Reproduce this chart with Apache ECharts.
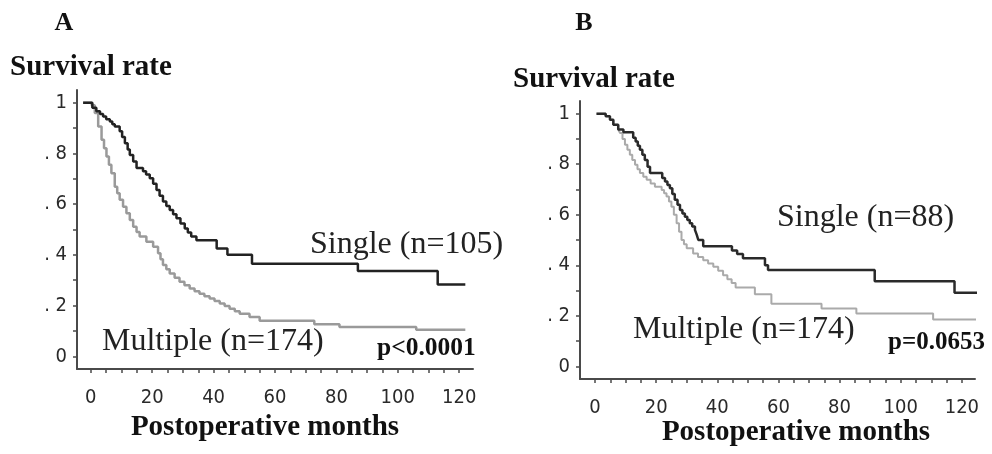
<!DOCTYPE html>
<html>
<head>
<meta charset="utf-8">
<script src="https://cdn.jsdelivr.net/npm/echarts@6/dist/echarts.min.js"></script>
<style>
html, body { margin: 0; background: #fff; }
#main { width: 992px; height: 454px; }
</style>
</head>
<body>
<div id="main"></div>
<script>
// tick positions
const xLabelValues = [0, 20, 40, 60, 80, 100, 120];
const xTickValues = [0, 5, 10, 15, 20, 25, 30, 35, 40, 45, 50, 55, 60, 65, 70, 75, 80, 85, 90, 95, 100, 105, 110, 115, 120];
const yLabelValues = [0, 0.2, 0.4, 0.6, 0.8, 1];
const yTickValues = [0, 0.1, 0.2, 0.3, 0.4, 0.5, 0.6, 0.7, 0.8, 0.9, 1];

// panel A - single tumour
const aSingleMonths = [-2.5, 0.5, 1.8, 3, 4, 5, 6.2, 7, 7.8, 9.4, 10.2, 11.1, 12, 12.7, 13.8, 14.9, 17, 18, 19.2, 20.3, 21.4, 22.4, 23.5, 24.6, 25.7, 26.8, 27.9, 29.2, 30.6, 31.6, 32.7, 34.4, 41, 44.5, 52.5, 87, 113, 122];
const aSingleSurv = [1, 0.98, 0.966, 0.955, 0.946, 0.935, 0.926, 0.915, 0.906, 0.887, 0.865, 0.84, 0.815, 0.794, 0.768, 0.742, 0.73, 0.717, 0.702, 0.68, 0.656, 0.633, 0.61, 0.593, 0.577, 0.56, 0.544, 0.524, 0.504, 0.488, 0.472, 0.458, 0.425, 0.4, 0.365, 0.336, 0.283, 0.283];
// panel A - multiple tumours
const aMultiMonths = [-2.5, 0.3, 1.3, 2.4, 3.5, 4.3, 5.1, 5.9, 6.7, 7.8, 8.6, 9.4, 10.5, 11.6, 12.7, 13.8, 14.9, 15.9, 18.1, 20.3, 21.9, 22.7, 23.5, 24.6, 25.7, 27.3, 28.9, 30.5, 32.2, 33.8, 35.4, 37, 38.7, 40.3, 42, 43.6, 45.2, 46.9, 48.5, 51.7, 55, 72.8, 81, 106, 122];
const aMultiSurv = [1, 0.99, 0.959, 0.906, 0.854, 0.82, 0.788, 0.755, 0.722, 0.669, 0.643, 0.617, 0.59, 0.564, 0.537, 0.511, 0.49, 0.472, 0.452, 0.432, 0.406, 0.383, 0.36, 0.343, 0.327, 0.31, 0.294, 0.28, 0.267, 0.257, 0.247, 0.237, 0.228, 0.218, 0.208, 0.198, 0.188, 0.178, 0.168, 0.155, 0.14, 0.126, 0.116, 0.105, 0.105];

// panel B - single tumour
const bSingleMonths = [0.5, 3.5, 4.9, 6, 7.6, 9.3, 12.5, 13.3, 14, 14.7, 15.5, 16.3, 17.2, 18, 22, 22.9, 23.7, 24.5, 25.3, 26.1, 27, 27.8, 28.6, 29.4, 30.2, 31, 31.8, 32.7, 33.3, 33.8, 35.4, 44.8, 46.5, 48.4, 55.6, 56.6, 91.5, 117.6, 127];
const bSingleSurv = [1, 0.99, 0.976, 0.956, 0.937, 0.926, 0.905, 0.89, 0.873, 0.857, 0.837, 0.817, 0.79, 0.765, 0.745, 0.731, 0.718, 0.705, 0.682, 0.659, 0.639, 0.619, 0.605, 0.592, 0.579, 0.566, 0.553, 0.54, 0.52, 0.5, 0.475, 0.458, 0.445, 0.428, 0.4, 0.381, 0.337, 0.291, 0.291];
// panel B - multiple tumours
const bMultiMonths = [0.5, 3.5, 4.9, 6, 7.6, 8.2, 9, 9.8, 10.6, 11.4, 12.2, 13.1, 13.9, 14.7, 15.8, 16.9, 18.2, 19.6, 21.8, 22.6, 23.4, 24.2, 25, 25.8, 26.7, 27.5, 28.3, 29.1, 30, 32.1, 33.7, 35.4, 37, 38.7, 40.3, 41.9, 43.3, 44.7, 46, 52.3, 57.7, 74.1, 85.5, 110.6, 127];
const bMultiSurv = [1, 0.99, 0.976, 0.956, 0.937, 0.923, 0.9, 0.877, 0.857, 0.837, 0.817, 0.798, 0.78, 0.765, 0.75, 0.738, 0.724, 0.711, 0.698, 0.685, 0.672, 0.652, 0.632, 0.6, 0.566, 0.533, 0.5, 0.483, 0.467, 0.447, 0.433, 0.42, 0.407, 0.394, 0.378, 0.361, 0.345, 0.33, 0.312, 0.285, 0.248, 0.229, 0.209, 0.185, 0.185];

const pairs = (xs, ys) => xs.map((x, i) => [x, ys[i]]);

const axisColor = '#4a4a4a';
const tickFont = "'Liberation Sans Narrow', 'DejaVu Sans Condensed', 'Liberation Sans', sans-serif";
const serif = "'Liberation Serif', 'DejaVu Serif', serif";

function xAxisFor(grid, min, max) {
    return {
        type: 'value', gridIndex: grid, min: min, max: max,
        splitLine: { show: false },
        axisLine: { onZero: false, lineStyle: { color: axisColor, width: 2 } },
        axisTick: { customValues: xTickValues, length: 4, lineStyle: { color: axisColor, width: 1.5 } },
        axisLabel: {
            customValues: xLabelValues, margin: 19, color: '#2a2a2a',
            fontFamily: tickFont, fontSize: 20
        }
    };
}
function yAxisFor(grid) {
    return {
        type: 'value', gridIndex: grid, min: -0.05, max: 1.05,
        splitLine: { show: false },
        axisLine: { onZero: false, lineStyle: { color: axisColor, width: 2 } },
        axisTick: { customValues: yTickValues, length: 4, lineStyle: { color: axisColor, width: 1.5 } },
        axisLabel: {
            customValues: yLabelValues, margin: 10, color: '#2a2a2a',
            fontFamily: tickFont, fontSize: 20, padding: [13, 0, 0, 0],
            formatter: function (v) {
                if (v === 0) return '0';
                if (v === 1) return '1';
                return '. ' + Math.round(v * 10);
            }
        }
    };
}
function km(name, grid, data, color, width, z) {
    return {
        name: name, type: 'line', step: 'end',
        xAxisIndex: grid, yAxisIndex: grid,
        data: data, showSymbol: false, clip: false, z: z,
        lineStyle: { color: color, width: width },
        silent: true, animation: false
    };
}
function txt(x, y, text, size, bold, align, color) {
    return {
        type: 'text', x: x, y: y,
        style: {
            text: text, fill: color || '#111',
            font: (bold ? 'bold ' : '') + size + 'px ' + serif,
            textAlign: align || 'left', textVerticalAlign: 'middle'
        }
    };
}

const chart = echarts.init(document.getElementById('main'), null, { renderer: 'canvas' });
chart.setOption({
    backgroundColor: '#fff',
    animation: false,
    grid: [
        { left: 77, top: 90, width: 396, height: 279 },
        { left: 580, top: 101, width: 395, height: 278 }
    ],
    xAxis: [xAxisFor(0, -4.5, 124.5), xAxisFor(1, -4.9, 124.3)],
    yAxis: [yAxisFor(0), yAxisFor(1)],
    series: [
        km('Multiple A', 0, pairs(aMultiMonths, aMultiSurv), '#9a9a9a', 2.5, 2),
        km('Single A', 0, pairs(aSingleMonths, aSingleSurv), '#222', 2.5, 3),
        km('Multiple B', 1, pairs(bMultiMonths, bMultiSurv), '#aaaaaa', 2, 2),
        km('Single B', 1, pairs(bSingleMonths, bSingleSurv), '#2a2a2a', 2.5, 3)
    ],
    graphic: [
        txt(64, 23, 'A', 26, true, 'center'),
        txt(584, 23, 'B', 26, true, 'center'),
        txt(10, 68, 'Survival rate', 29, true),
        txt(513, 80, 'Survival rate', 29, true),
        txt(265, 428, 'Postoperative months', 29, true, 'center'),
        txt(796, 433, 'Postoperative months', 29, true, 'center'),
        txt(310, 245, 'Single (n=105)', 32, false, 'left', '#222'),
        txt(102, 342, 'Multiple (n=174)', 32, false, 'left', '#222'),
        txt(377, 348, 'p<0.0001', 25.5, true),
        txt(777, 218, 'Single (n=88)', 32, false, 'left', '#222'),
        txt(633, 330, 'Multiple (n=174)', 32, false, 'left', '#222'),
        txt(888, 343, 'p=0.0653', 25, true)
    ]
});
</script>
</body>
</html>
